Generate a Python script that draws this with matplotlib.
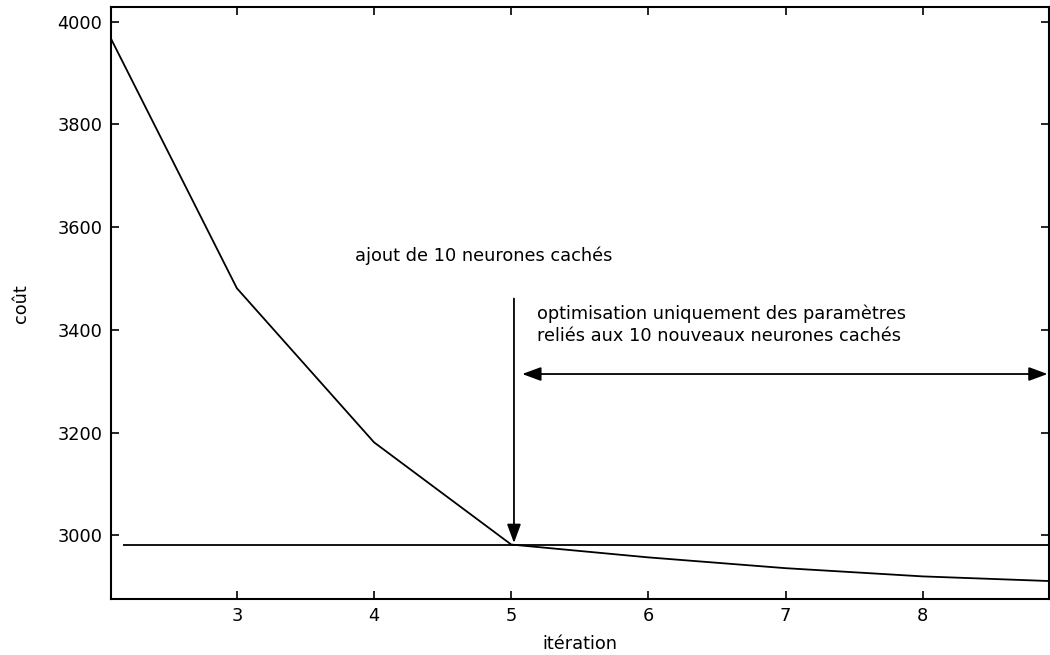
import matplotlib.pyplot as plt

# cost per iteration
iterations = [2.08, 3, 4, 5, 6, 7, 8, 8.92]
cost = [3968, 3481, 3181, 2982, 2957, 2936, 2920, 2911]

# reference level = cost when the 10 hidden neurons are added
ref_level = 2982
ref_start = 2.17

x_ticks = [3, 4, 5, 6, 7, 8]
y_ticks = [3000, 3200, 3400, 3600, 3800, 4000]

plt.rcParams['font.family'] = ['DejaVu Sans']
plt.rcParams['font.size'] = 12.8

fig = plt.figure(figsize=(10.5, 6.55), dpi=100)
ax = fig.add_axes([0.1054, 0.0855, 0.8936, 0.9034])

ax.plot(iterations, cost, color='black', lw=1.3)
ax.hlines(ref_level, ref_start, iterations[-1], color='black', lw=1.3)

ax.set_xlim(2.08, 8.92)
ax.set_ylim(2876, 4028)
ax.set_xticks(x_ticks)
ax.set_yticks(y_ticks)
ax.tick_params(direction='in', length=6, width=1.2, pad=6,
               top=True, right=True)
for s in ax.spines.values():
    s.set_linewidth(1.5)

ax.set_xlabel('itération', labelpad=7)
ax.set_ylabel('coût', labelpad=20)

ax.text(3.86, 3544, 'ajout de 10 neurones cachés', ha='left', va='center')
ax.text(5.19, 3410,
        'optimisation uniquement des paramètres\nreliés aux 10 nouveaux neurones cachés',
        ha='left', va='center', linespacing=1.25)

# arrow down to the point where neurons are added
ax.annotate('', xy=(5.02, ref_level + 3), xytext=(5.02, 3461),
            arrowprops=dict(arrowstyle='-|>,head_length=0.95,head_width=0.35',
                            color='black', lw=1.3, shrinkA=0, shrinkB=0,
                            mutation_scale=12))
# span of the restricted optimisation
ax.annotate('', xy=(8.91, 3314), xytext=(5.08, 3314),
            arrowprops=dict(arrowstyle='<|-|>,head_length=0.95,head_width=0.35',
                            color='black', lw=1.3, shrinkA=0, shrinkB=0,
                            mutation_scale=12),
            annotation_clip=False)

fig.savefig('out.png', dpi=100)
